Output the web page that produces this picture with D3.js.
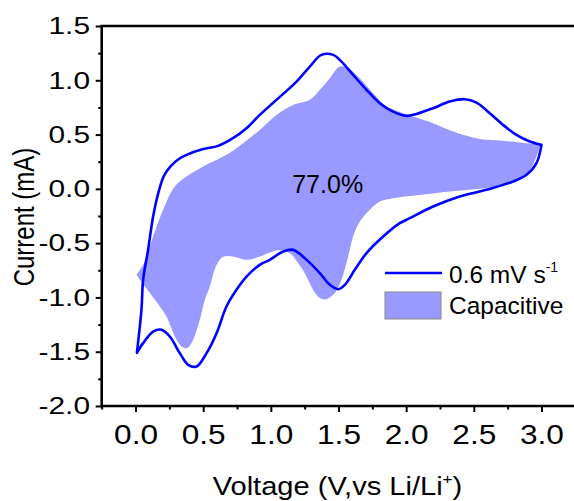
<!DOCTYPE html>
<html>
<head>
<meta charset="utf-8">
<script src="https://cdn.jsdelivr.net/npm/d3@7"></script>
<style>
  html, body { margin: 0; padding: 0; background: #fff; }
  svg text { font-family: "Liberation Sans", Arial, sans-serif; fill: #000; }
</style>
</head>
<body>
<svg id="chart" width="574" height="501"></svg>
<script>
// Cyclic voltammogram at 0.6 mV/s, anodic sweep (0 -> 3 V)
const cvAnodicV = [0.01, 0.044, 0.056, 0.093, 0.13, 0.17, 0.21, 0.26, 0.32, 0.377, 0.50, 0.61, 0.72, 0.82, 0.918, 1.042, 1.19, 1.288, 1.374, 1.46, 1.522, 1.608, 1.707, 1.805, 1.903, 2.003, 2.076, 2.199, 2.322, 2.433, 2.52, 2.618, 2.716, 2.815, 2.914, 3.0];
const cvAnodicI = [-1.51, -1.11, -0.84, -0.56, -0.255, -0.03, 0.12, 0.21, 0.275, 0.313, 0.366, 0.396, 0.467, 0.559, 0.681, 0.82, 0.988, 1.126, 1.234, 1.234, 1.172, 1.05, 0.912, 0.789, 0.712, 0.672, 0.69, 0.743, 0.804, 0.826, 0.795, 0.697, 0.589, 0.497, 0.436, 0.405];
// Cathodic sweep (3 -> 0 V)
const cvCathodicV = [3.0, 2.963, 2.889, 2.79, 2.594, 2.396, 2.199, 2.027, 1.953, 1.83, 1.707, 1.62, 1.547, 1.497, 1.436, 1.362, 1.264, 1.165, 1.091, 0.992, 0.918, 0.82, 0.746, 0.672, 0.599, 0.525, 0.451, 0.389, 0.327, 0.253, 0.192, 0.13, 0.056, 0.01];
const cvCathodicI = [0.405, 0.237, 0.129, 0.067, -0.009, -0.071, -0.163, -0.27, -0.316, -0.439, -0.592, -0.746, -0.884, -0.924, -0.884, -0.776, -0.654, -0.562, -0.577, -0.654, -0.70, -0.808, -0.93, -1.084, -1.329, -1.513, -1.636, -1.621, -1.513, -1.36, -1.298, -1.314, -1.421, -1.51];

// Capacitive contribution region: upper edge (0 -> 3 V) and lower edge (3 -> 0 V)
const capUpperV = [0.007, 0.069, 0.13, 0.204, 0.29, 0.377, 0.50, 0.672, 0.795, 0.918, 1.042, 1.165, 1.288, 1.362, 1.436, 1.51, 1.571, 1.657, 1.756, 1.855, 1.953, 2.051, 2.199, 2.347, 2.544, 2.692, 2.84, 2.99];
const capUpperI = [-0.792, -0.672, -0.439, -0.193, 0.021, 0.113, 0.205, 0.313, 0.421, 0.543, 0.681, 0.773, 0.82, 0.912, 1.019, 1.126, 1.111, 1.019, 0.881, 0.758, 0.709, 0.666, 0.605, 0.528, 0.46, 0.445, 0.426, 0.405];
const capLowerV = [2.99, 2.963, 2.914, 2.815, 2.642, 2.322, 2.051, 1.903, 1.805, 1.731, 1.657, 1.608, 1.571, 1.522, 1.473, 1.411, 1.362, 1.312, 1.264, 1.202, 1.14, 1.051, 0.918, 0.82, 0.721, 0.647, 0.599, 0.549, 0.512, 0.475, 0.426, 0.386, 0.35, 0.303, 0.229, 0.18, 0.106, 0.032, 0.007];
const capLowerI = [0.405, 0.297, 0.175, 0.083, 0.016, -0.025, -0.064, -0.086, -0.117, -0.193, -0.304, -0.439, -0.623, -0.838, -0.96, -1.016, -1.006, -0.93, -0.808, -0.684, -0.592, -0.566, -0.623, -0.654, -0.623, -0.626, -0.70, -0.90, -1.022, -1.206, -1.39, -1.464, -1.46, -1.39, -1.176, -1.084, -0.96, -0.838, -0.792];

const xTicks = [0.0, 0.5, 1.0, 1.5, 2.0, 2.5, 3.0];
const xMinorTicks = [-0.25, 0.25, 0.75, 1.25, 1.75, 2.25, 2.75, 3.25];
const yTicks = [1.5, 1.0, 0.5, 0.0, -0.5, -1.0, -1.5, -2.0];
const yMinorTicks = [1.25, 0.75, 0.25, -0.25, -0.75, -1.25, -1.75];
const capPercentLabel = "77.0%";

const svg = d3.select("#chart");
const mLeft = 101.7, mRight = 575.3, mTop = 26, mBottom = 406;

const x = d3.scaleLinear().domain([-0.25, 3.25]).range([mLeft, mRight]);
const y = d3.scaleLinear().domain([-2.0, 1.5]).range([mBottom, mTop]);

const zip = (vs, is) => vs.map((v, k) => [v, is[k]]);
const line = d3.line().x(d => x(d[0])).y(d => y(d[1])).curve(d3.curveCatmullRom.alpha(0.5));

function loopPath(a, b) {
  const pa = line(a);
  const pb = line(b).replace(/^M/, "L");
  return pa + pb + "Z";
}

const plot = svg.append("g");

// capacitive area
plot.append("path")
  .attr("d", loopPath(zip(capUpperV, capUpperI), zip(capLowerV, capLowerI)))
  .attr("fill", "#9999ff")
  .attr("stroke", "none");

// CV curve
plot.append("path")
  .attr("d", loopPath(zip(cvAnodicV, cvAnodicI), zip(cvCathodicV, cvCathodicI)))
  .attr("fill", "none")
  .attr("stroke", "#0000ff")
  .attr("stroke-width", 2.6)
  .attr("stroke-linejoin", "round");

// percentage label
svg.append("text")
  .attr("x", x(1.42)).attr("y", y(-0.04))
  .attr("text-anchor", "middle")
  .attr("font-size", 25)
  .text(capPercentLabel);

// axes (hyphen-minus in labels)
const fmt = v => d3.format(".1f")(v).replace("\u2212", "-");
const xAxis = svg.append("g").attr("transform", `translate(0,${mBottom})`)
  .call(d3.axisBottom(x).tickValues(xTicks).tickFormat(fmt).tickSize(6));
const xMinor = svg.append("g").attr("transform", `translate(0,${mBottom})`)
  .call(d3.axisBottom(x).tickValues(xMinorTicks).tickFormat("").tickSize(3.5));
const yAxis = svg.append("g").attr("transform", `translate(${mLeft},0)`)
  .call(d3.axisLeft(y).tickValues(yTicks).tickFormat(fmt).tickSize(6));
const yMinor = svg.append("g").attr("transform", `translate(${mLeft},0)`)
  .call(d3.axisLeft(y).tickValues(yMinorTicks).tickFormat("").tickSize(3.5));

[xAxis, xMinor, yAxis, yMinor].forEach(g => {
  g.select(".domain").remove();
  g.selectAll(".tick line").attr("stroke", "#000").attr("stroke-width", 2);
});
const xsx = 1.15;
xAxis.selectAll(".tick text")
  .attr("font-size", 27.5).attr("dy", 0).attr("y", 38)
  .attr("transform", `scale(${xsx},1)`)
  .attr("font-family", "Liberation Sans, Arial, sans-serif").attr("fill", "#000");
const ysx = 1.22;
yAxis.selectAll(".tick text")
  .attr("font-size", 24.5).attr("x", -11.7 / ysx)
  .attr("transform", `scale(${ysx},1)`)
  .attr("font-family", "Liberation Sans, Arial, sans-serif").attr("fill", "#000");

// frame: left, bottom and top lines
svg.append("path")
  .attr("d", `M${mRight},${mTop}H${mLeft}V${mBottom}H${mRight}`)
  .attr("fill", "none").attr("stroke", "#000").attr("stroke-width", 2.6);

// axis titles
const xTitle = svg.append("text")
  .attr("transform", "translate(337.5,495) scale(1.14,1)")
  .attr("text-anchor", "middle")
  .attr("font-size", 25.5);
xTitle.append("tspan").text("Voltage (V,vs Li/Li");
xTitle.append("tspan").attr("font-size", 15).attr("dy", -11).text("+");
xTitle.append("tspan").attr("dy", 11).text(")");

svg.append("text")
  .attr("transform", "translate(34,217) scale(1.2,1) rotate(-90)")
  .attr("text-anchor", "middle")
  .attr("font-size", 24)
  .text("Current (mA)");

// legend
const lg = svg.append("g");
lg.append("line")
  .attr("x1", 385).attr("x2", 442).attr("y1", 273).attr("y2", 273)
  .attr("stroke", "#0000ff").attr("stroke-width", 2.6);
const lt = lg.append("text").attr("x", 449).attr("y", 282.5).attr("font-size", 24.5);
lt.append("tspan").text("0.6 mV s");
lt.append("tspan").attr("font-size", 14).attr("dy", -11).text("-1");
lg.append("rect")
  .attr("x", 385).attr("y", 292).attr("width", 56).attr("height", 27)
  .attr("fill", "#9999ff").attr("stroke", "#888").attr("stroke-width", 1);
lg.append("text").attr("x", 449).attr("y", 314).attr("font-size", 24.5).text("Capacitive");
</script>
</body>
</html>
